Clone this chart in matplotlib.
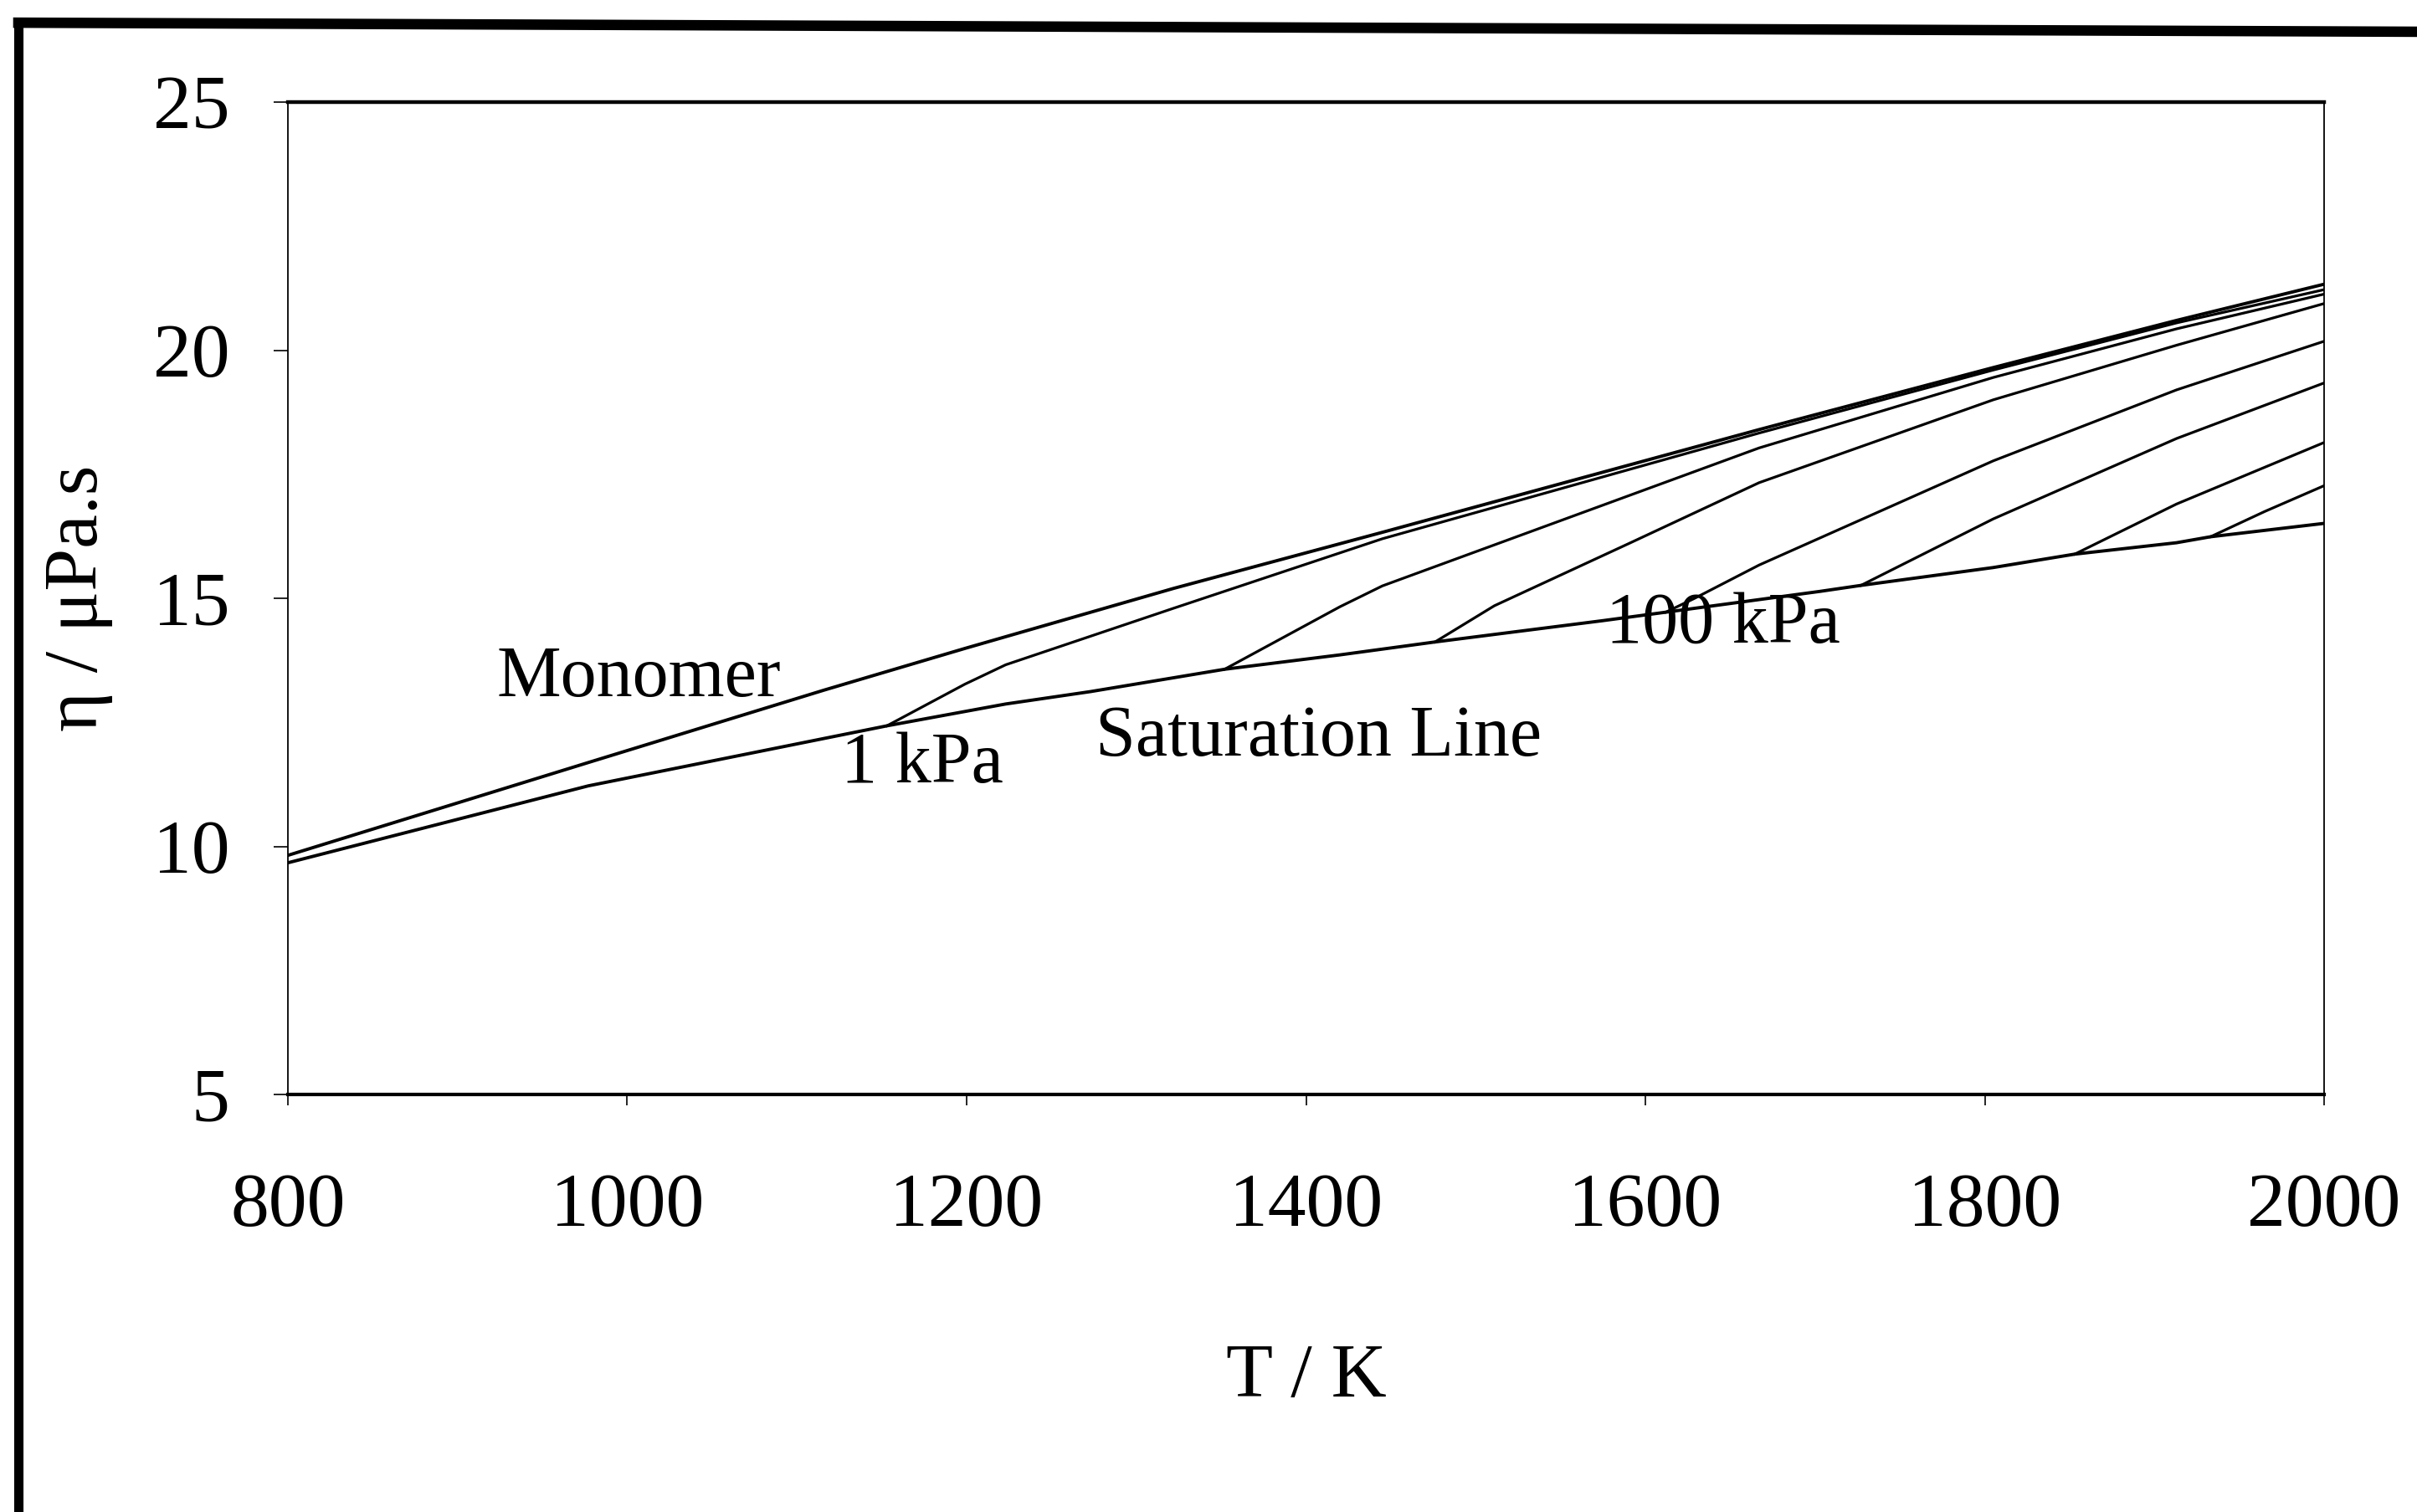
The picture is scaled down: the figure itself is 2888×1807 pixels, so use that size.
import matplotlib
matplotlib.use('Agg')
import matplotlib.pyplot as plt
from matplotlib.lines import Line2D

plt.rcParams['font.family'] = ['Liberation Serif', 'DejaVu Serif']

# Monomer curve
mono_T = [800, 977, 1116, 1199, 1322, 1420, 1445, 1667, 1805, 1913, 2000]
mono_eta = [9.82, 11.69, 13.15, 13.99, 15.2, 16.10, 16.33, 18.40, 19.65, 20.60, 21.33]

# Saturation line
sat_T = [800, 977, 1153, 1223, 1273, 1352, 1420, 1476, 1575, 1612, 1703, 1727, 1805, 1853, 1913, 1933, 2000]
sat_eta = [9.67, 11.22, 12.43, 12.87, 13.12, 13.57, 13.86, 14.12, 14.55, 14.72, 15.14, 15.26, 15.62, 15.89, 16.12, 16.24, 16.51]

# Isobars, each starting on the saturation line
iso1_T = [1153, 1199, 1223, 1322, 1445, 1667, 1805, 1913, 2000]
iso1_eta = [12.43, 13.27, 13.66, 14.80, 16.20, 18.33, 19.60, 20.55, 21.22]
iso2_T = [1352, 1420, 1445, 1667, 1805, 1913, 2000]
iso2_eta = [13.57, 14.83, 15.25, 18.03, 19.45, 20.43, 21.13]
iso3_T = [1476, 1511, 1590, 1667, 1805, 1913, 2000]
iso3_eta = [14.12, 14.85, 16.10, 17.33, 19.00, 20.10, 20.94]
iso4_T = [1612, 1629, 1667, 1805, 1913, 2000]
iso4_eta = [14.72, 15.00, 15.67, 17.77, 19.20, 20.18]
iso5_T = [1727, 1805, 1913, 2000]
iso5_eta = [15.26, 16.60, 18.22, 19.34]
iso6_T = [1853, 1913, 2000]
iso6_eta = [15.89, 16.90, 18.14]
iso7_T = [1933, 1965, 2000]
iso7_eta = [16.24, 16.75, 17.27]

isobars = [(iso1_T, iso1_eta), (iso2_T, iso2_eta), (iso3_T, iso3_eta), (iso4_T, iso4_eta),
           (iso5_T, iso5_eta), (iso6_T, iso6_eta), (iso7_T, iso7_eta)]

x_ticks = [800, 1000, 1200, 1400, 1600, 1800, 2000]
y_ticks = [5, 10, 15, 20, 25]

fig = plt.figure(figsize=(28.88, 18.07), dpi=100)
ax = fig.add_axes([0.1191, 0.2761, 0.8425, 0.6564])

ax.plot(mono_T, mono_eta, color='black', lw=2.8)
ax.plot(sat_T, sat_eta, color='black', lw=2.8)
for T, eta in isobars:
    ax.plot(T, eta, color='black', lw=2.3)

ax.set_xlim(800, 2000)
ax.set_ylim(5, 25)
ax.set_xticks(x_ticks)
ax.set_yticks(y_ticks)
ax.tick_params(axis='x', direction='out', length=9, width=1.2, pad=58, labelsize=66)
ax.tick_params(axis='y', direction='out', length=12, width=1.2, pad=38, labelsize=66)

ax.spines['top'].set_linewidth(3.2)
ax.spines['bottom'].set_linewidth(3.0)
ax.spines['left'].set_linewidth(1.3)
ax.spines['right'].set_linewidth(1.3)

ax.set_xlabel('T / K', fontsize=66, labelpad=88)
ax.set_ylabel('η / μPa.s', fontsize=66)
ax.yaxis.set_label_coords(-0.086, 0.5)

# curve labels
ax.text(923, 13.03, 'Monomer', fontsize=62, va='baseline', ha='left')
ax.text(1126, 11.29, '1 kPa', fontsize=62, va='baseline', ha='left')
ax.text(1276, 11.83, 'Saturation Line', fontsize=62, va='baseline', ha='left')
ax.text(1577, 14.11, '100 kPa', fontsize=62, va='baseline', ha='left')

# outer frame of the scanned figure (top and left edges)
fig.add_artist(Line2D([0.0076, 1.0], [0.985, 0.979], color='black', lw=9))
fig.add_artist(Line2D([0.0076, 0.0076], [0.0, 0.985], color='black', lw=8))

plt.savefig('out.png', dpi=100, facecolor='white')
